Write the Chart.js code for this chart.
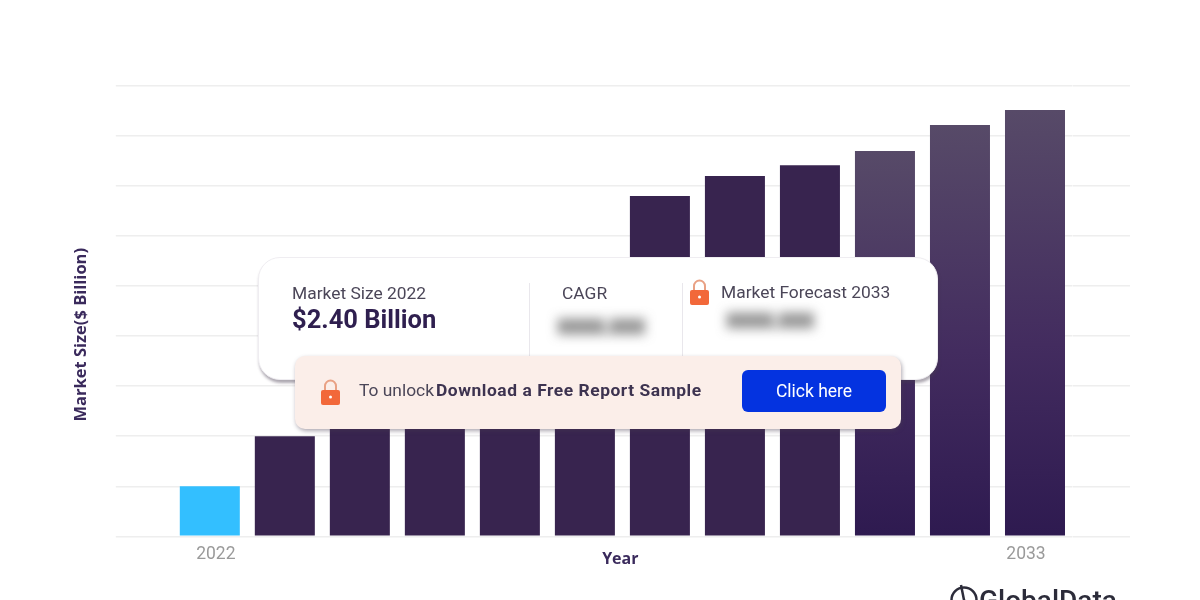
<!DOCTYPE html>
<html><head><meta charset="utf-8">
<style>
html,body{margin:0;padding:0;background:#fff;width:1200px;height:600px;overflow:hidden;font-family:Roboto,sans-serif}
#wrap{position:relative;width:1200px;height:600px;overflow:hidden}
canvas{position:absolute;left:0;top:0}
.abs{position:absolute;white-space:nowrap;line-height:1}
#card{position:absolute;left:258px;top:257px;width:680px;height:123px;background:#fff;border-radius:22px;box-shadow:1px 3px 3px rgba(70,60,80,.45);border:1px solid #efedf1;box-sizing:border-box}
#pink{position:absolute;left:295px;top:356px;width:606px;height:73px;background:#fbeee9;border-radius:10px;box-shadow:1px 2px 4px rgba(70,60,80,.45)}
#btn{position:absolute;left:742px;top:370px;width:144px;height:42px;background:#0433e0;border-radius:6px;color:#fff;font-size:17.5px;line-height:42px;text-align:center}
.div{position:absolute;width:1px;background:#e9e7ec;top:283px;height:73px}
.lbl{font-size:17.4px;color:#4b4658}
.blur{font-size:20px;color:#444;filter:blur(6px);font-weight:900;letter-spacing:-1px}
</style></head><body>
<div id="wrap">
<canvas id="c" width="1200" height="600"></canvas>
<div id="card"></div>
<div class="div" style="left:529px"></div>
<div class="div" style="left:682px"></div>
<div class="abs lbl" style="left:292px;top:285px">Market Size 2022</div>
<div class="abs" style="left:292px;top:307px;font-size:25.500px;font-weight:700;color:#2f1f4f">$2.40 Billion</div>
<div class="abs lbl" style="left:562px;top:285px">CAGR</div>
<div class="abs blur" style="left:557px;top:317px">XXXX.XXX</div>
<div class="abs lbl" style="left:721px;top:284px">Market Forecast 2033</div>
<div class="abs blur" style="left:726px;top:311px">XXXX.XXX</div>
<svg class="abs" style="left:689px;top:279px" width="21" height="26" viewBox="0 0 21 26"><path d="M5 12V7a5.5 5.5 0 0 1 11 0v5" fill="none" stroke="#e9a184" stroke-width="2"/><rect x="1" y="11" width="19" height="15" rx="2" fill="#f2683a"/><circle cx="10.500" cy="18" r="1.500" fill="#fff"/></svg>
<div id="pink"></div>
<svg class="abs" style="left:320px;top:379px" width="21" height="26" viewBox="0 0 21 26"><path d="M5 12V7a5.5 5.5 0 0 1 11 0v5" fill="none" stroke="#e9a184" stroke-width="2"/><rect x="1" y="11" width="19" height="15" rx="2" fill="#f2683a"/><circle cx="10.500" cy="18" r="1.500" fill="#fff"/></svg>
<div class="abs" style="left:359px;top:382px;font-size:17.400px;color:#4b4658">To unlock</div>
<div class="abs" style="left:436px;top:382px;font-size:17.400px;letter-spacing:.55px;font-weight:700;color:#3d3350">Download a Free Report Sample</div>
<div id="btn">Click here</div>
<svg class="abs" style="left:948px;top:583px" width="32" height="30" viewBox="0 0 32 30"><circle cx="16" cy="17" r="12.500" fill="none" stroke="#2c2c3a" stroke-width="2.500"/><path d="M13 2l3 15 5 7" fill="none" stroke="#2c2c3a" stroke-width="2.500"/></svg>
<div class="abs" style="left:979px;top:587px;font-size:28px;font-weight:500;color:#2c2c3a">GlobalData</div>
</div>
<script src="https://cdn.jsdelivr.net/npm/chart.js@4"></script>
<script>
const categories = ['2022','2023','2024','2025','2026','2027','2028','2029','2030','2031','2032','2033'];
const marketSize = [2.40,4.80,6.50,8.20,10.80,13.40,16.32,17.28,17.80,18.48,19.73,20.45];
const axisYears = [2022,2033];
const yMax = 21.6, yStep = 2.4;
const barBlue = '#33bfff', barDark = '#38244f';
const fadeFrom = 9;

const grid = '#eeeeee';
new Chart(document.getElementById('c'), {
  type: 'bar',
  data: { labels: categories, datasets: [{
    data: marketSize,
    categoryPercentage: 1, barPercentage: 0.8,
    backgroundColor: (ctx) => {
      if (ctx.dataIndex === 0) return barBlue;
      if (ctx.dataIndex < fadeFrom || !ctx.chart.chartArea || !ctx.parsed) return barDark;
      const s = ctx.chart.scales.y;
      const g = ctx.chart.ctx.createLinearGradient(0, s.getPixelForValue(ctx.parsed.y), 0, s.getPixelForValue(0));
      g.addColorStop(0, '#574a68'); g.addColorStop(0.55, '#432c5f'); g.addColorStop(1, '#2e1a50');
      return g;
    }
  }]},
  options: {
    responsive: false, animation: false, events: [],
    layout: { padding: { left: 71, right: 70, top: 86, bottom: 31 } },
    plugins: { legend: { display: false }, tooltip: { enabled: false } },
    scales: {
      x: { display: false, offset: true },
      xTicks: {
        type: 'linear', position: 'bottom', axis: 'x', offset: false,
        min: 2021.409, max: 2033.631,
        afterBuildTicks: (s) => { s.ticks = axisYears.map(v => ({ value: v })); },
        grid: { display: false }, border: { display: false },
        ticks: { autoSkip: false, maxRotation: 0, padding: 0, color: '#9a9a9a', font: { family: 'Roboto', size: 17.5 }, callback: (v) => String(v) },
        title: { display: true, text: 'Year ', color: '#3a2a5c', font: { family: 'Open Sans', size: 16, weight: 'bold' }, padding: { top: -15.5, bottom: 0 } }
      },
      y: {
        position: 'left', min: 0, max: yMax,
        ticks: { display: false, stepSize: yStep },
        grid: { color: grid, tickColor: grid, tickLength: 56.5, lineWidth: 1.5 },
        border: { display: false },
        title: { display: true, text: 'Market Size($ Billion)' + '           ', color: '#3a2a5c', font: { family: 'Open Sans', size: 16.5, weight: 'bold' }, padding: { top: 0, bottom: 25 } }
      },
      yRight: {
        position: 'right', min: 0, max: yMax,
        ticks: { display: false, stepSize: yStep },
        grid: { drawOnChartArea: false, tickColor: grid, tickLength: 57.5, lineWidth: 1.5 },
        border: { display: false }
      }
    }
  }
});
</script>
</body></html>
